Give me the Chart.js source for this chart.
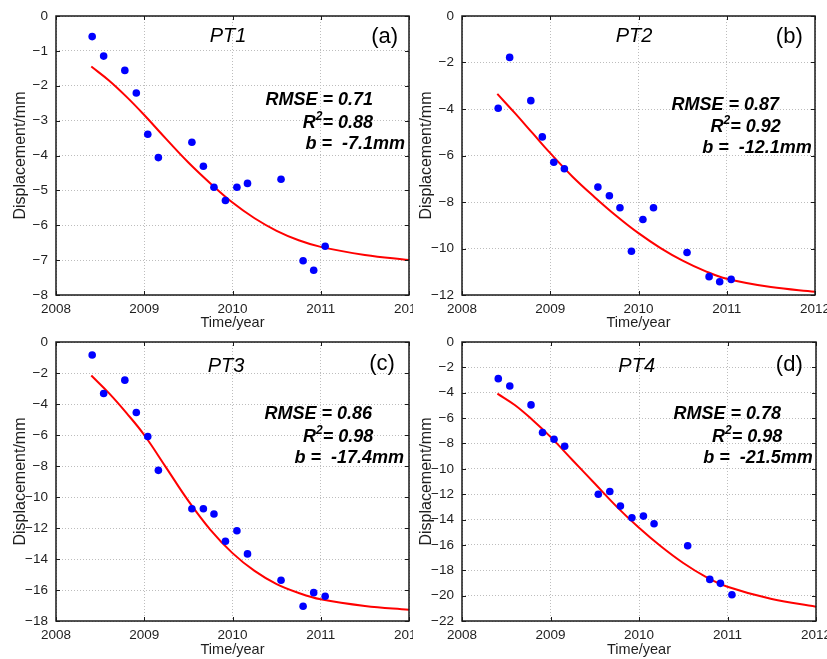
<!DOCTYPE html>
<html>
<head>
<meta charset="utf-8">
<script src="https://cdn.jsdelivr.net/npm/chart.js@4.4.0/dist/chart.umd.min.js"></script>
<style>
body{margin:0;background:#fff;}
#wrap{position:relative;width:827px;height:659px;overflow:hidden;background:#fff;}
#wrap canvas{position:absolute;}
</style>
</head>
<body>
<div id="wrap">
  <canvas id="pa" width="413" height="330" style="left:0;top:0"></canvas>
  <canvas id="pb" width="413" height="330" style="left:414px;top:0"></canvas>
  <canvas id="pc" width="413" height="333" style="left:0;top:326px"></canvas>
  <canvas id="pd" width="413" height="333" style="left:414px;top:326px"></canvas>
</div>
<script>
// DATA
const dates = [2008.41, 2008.54, 2008.78, 2008.91, 2009.04, 2009.16, 2009.54, 2009.67,
               2009.79, 2009.92, 2010.05, 2010.17, 2010.55, 2010.80, 2010.92, 2011.05];

const pt1 = [-0.59, -1.15, -1.56, -2.21, -3.39, -4.06, -3.62, -4.31,
             -4.91, -5.29, -4.91, -4.80, -4.68, -7.02, -7.29, -6.60];
const pt2 = [-3.97, -1.78, -3.64, -5.20, -6.29, -6.57, -7.36, -7.73,
             -8.25, -10.12, -8.75, -8.25, -10.17, -11.21, -11.43, -11.33];
const pt3 = [-0.84, -3.32, -2.46, -4.55, -6.10, -8.28, -10.76, -10.76,
             -11.10, -12.85, -12.18, -13.67, -15.37, -17.05, -16.17, -16.40];
const pt4 = [-2.89, -3.47, -4.96, -7.14, -7.67, -8.22, -12.00, -11.79,
             -12.94, -13.86, -13.73, -14.33, -16.07, -18.72, -19.03, -19.93];

// fitted curves
const fitX = [2008.4, 2008.6, 2008.8, 2009.0, 2009.25, 2009.5, 2009.75,
              2010.0, 2010.25, 2010.5, 2010.75, 2011.0, 2011.5, 2012.0];
const fit1 = [-1.45, -1.85, -2.32, -2.84, -3.53, -4.20, -4.80,
              -5.35, -5.80, -6.16, -6.43, -6.62, -6.85, -7.00];
const fit2 = [-3.35, -4.18, -5.04, -5.90, -6.90, -7.78, -8.60,
              -9.34, -9.98, -10.52, -10.96, -11.30, -11.66, -11.86];
const fit3 = [-2.16, -3.30, -4.59, -6.00, -8.12, -10.25, -12.12,
              -13.62, -14.77, -15.62, -16.19, -16.60, -17.03, -17.27];
const fit4 = [-4.07, -4.99, -6.17, -7.48, -9.32, -11.16, -13.00,
              -14.65, -16.13, -17.43, -18.50, -19.30, -20.27, -20.87];

const xTicks = [2008, 2009, 2010, 2011, 2012];
const yMins = [-8, -12, -18, -22];
const ySteps = [1, 2, 2, 2];
const names = ["PT1", "PT2", "PT3", "PT4"];
const tags = ["(a)", "(b)", "(c)", "(d)"];
const rmse = ["0.71", "0.87", "0.86", "0.78"];
const r2 = ["0.88", "0.92", "0.98", "0.98"];
const bVals = ["-7.1", "-12.1", "-17.4", "-21.5"];

// layout per panel
const panels = [
  {id:"pa", pts:pt1, fit:fit1, yW:56, padR:4,  xH:35, ytPad:11, xtPad:0,
   title:[172,20.7], tag:[328.7,20.7], stats:[84,107,128], right:[317,317,349]},
  {id:"pb", pts:pt2, fit:fit2, yW:48, padR:12, xH:35, ytPad:3, xtPad:0,
   title:[172,20.7], tag:[327.3,20.7], stats:[89,111,132], right:[317,318.7,349.7]},
  {id:"pc", pts:pt3, fit:fit3, yW:56, padR:3,  xH:38, ytPad:11, xtPad:2,
   title:[170,24.7], tag:[326,22.3], stats:[72,95,116], right:[316,317.3,348]},
  {id:"pd", pts:pt4, fit:fit4, yW:48, padR:11, xH:38, ytPad:3, xtPad:2,
   title:[174.7,24.7], tag:[327.3,23], stats:[72,95,116], right:[319,320.3,350.7]}
];

const FONT = "'Liberation Sans', Arial, sans-serif";
const INK = "#1e1e1e";

// frame, inner tick marks and texts
const framePlugin = {
  id: "frame",
  afterDraw(chart, args, opts) {
    const {ctx, chartArea: a, scales} = chart;
    const p = opts.panel, i = opts.idx;
    ctx.save();
    ctx.strokeStyle = "#1a1a1a";
    ctx.lineWidth = 1;
    scales.x.ticks.forEach(t => {
      const x = Math.round(scales.x.getPixelForValue(t.value)) + 0.5;
      ctx.beginPath();
      ctx.moveTo(x, a.bottom); ctx.lineTo(x, a.bottom - 4);
      ctx.moveTo(x, a.top); ctx.lineTo(x, a.top + 4);
      ctx.stroke();
    });
    scales.y.ticks.forEach(t => {
      const y = Math.round(scales.y.getPixelForValue(t.value)) + 0.5;
      ctx.beginPath();
      ctx.moveTo(a.left, y); ctx.lineTo(a.left + 4, y);
      ctx.moveTo(a.right, y); ctx.lineTo(a.right - 4, y);
      ctx.stroke();
    });
    ctx.lineWidth = 1.5;
    ctx.strokeRect(a.left, a.top, a.right - a.left, a.bottom - a.top);

    ctx.fillStyle = "#000";
    ctx.textBaseline = "middle";
    ctx.textAlign = "center";
    ctx.font = "italic 20px " + FONT;
    ctx.fillText(names[i], a.left + p.title[0], a.top + p.title[1]);
    ctx.font = "22px " + FONT;
    ctx.fillText(tags[i], a.left + p.tag[0], a.top + p.tag[1]);

    const big = "bold italic 18px " + FONT, small = "bold italic 12px " + FONT;
    ctx.textAlign = "right";
    ctx.font = big;
    ctx.fillText("RMSE = " + rmse[i], a.left + p.right[0], a.top + p.stats[0]);
    ctx.fillText("b =  " + bVals[i] + "mm", a.left + p.right[2], a.top + p.stats[2]);

    // R^2 with a raised small 2
    const rest = "= " + r2[i];
    let xr = a.left + p.right[1];
    const yr = a.top + p.stats[1];
    ctx.fillText(rest, xr, yr);
    xr -= ctx.measureText(rest).width;
    ctx.font = small;
    ctx.fillText("2", xr, yr - 6);
    xr -= ctx.measureText("2").width;
    ctx.font = big;
    ctx.fillText("R", xr, yr);
    ctx.restore();
  }
};

panels.forEach((p, i) => {
  new Chart(document.getElementById(p.id), {
    type: "scatter",
    data: {
      datasets: [
        {
          data: dates.map((d, k) => ({x: d, y: p.pts[k]})),
          backgroundColor: "#0000ff",
          borderWidth: 0,
          pointRadius: 3.8,
          showLine: false
        },
        {
          data: fitX.map((d, k) => ({x: d, y: p.fit[k]})),
          showLine: true,
          borderColor: "#ff0000",
          borderWidth: 2,
          pointRadius: 0,
          tension: 0.4
        }
      ]
    },
    options: {
      responsive: false,
      animation: false,
      events: [],
      layout: {padding: {top: 16, right: p.padR, bottom: 0, left: 0}},
      plugins: {
        legend: {display: false},
        tooltip: {enabled: false},
        frame: {panel: p, idx: i}
      },
      scales: {
        x: {
          type: "linear",
          min: 2008, max: 2012,
          afterBuildTicks: s => { s.ticks = xTicks.map(v => ({value: v})); },
          afterFit: s => { s.height = p.xH; s.paddingLeft = 0; s.paddingRight = 0; },
          ticks: {color: INK, padding: 6, font: {family: FONT, size: 13.5},
                  callback: v => "" + v},
          grid: {color: "#bdbdbd", drawTicks: false},
          border: {display: false, dash: [1, 2]},
          title: {display: true, text: "Time/year", color: INK,
                  padding: {top: 0, bottom: p.xtPad},
                  font: {family: FONT, size: 14.5, lineHeight: 1}}
        },
        y: {
          min: yMins[i], max: 0,
          ticks: {stepSize: ySteps[i], color: INK, padding: 8,
                  font: {family: FONT, size: 13.5},
                  callback: v => (v < 0 ? "\u2212" + Math.abs(v) : "" + v)},
          afterFit: s => { s.width = p.yW; s.paddingTop = 0; s.paddingBottom = 0; },
          grid: {color: "#bdbdbd", drawTicks: false},
          border: {display: false, dash: [1, 2]},
          title: {display: true, text: "Displacement/mm", color: INK,
                  padding: {top: p.ytPad, bottom: 0},
                  font: {family: FONT, size: 16}}
        }
      }
    },
    plugins: [framePlugin]
  });
});
</script>
</body>
</html>
